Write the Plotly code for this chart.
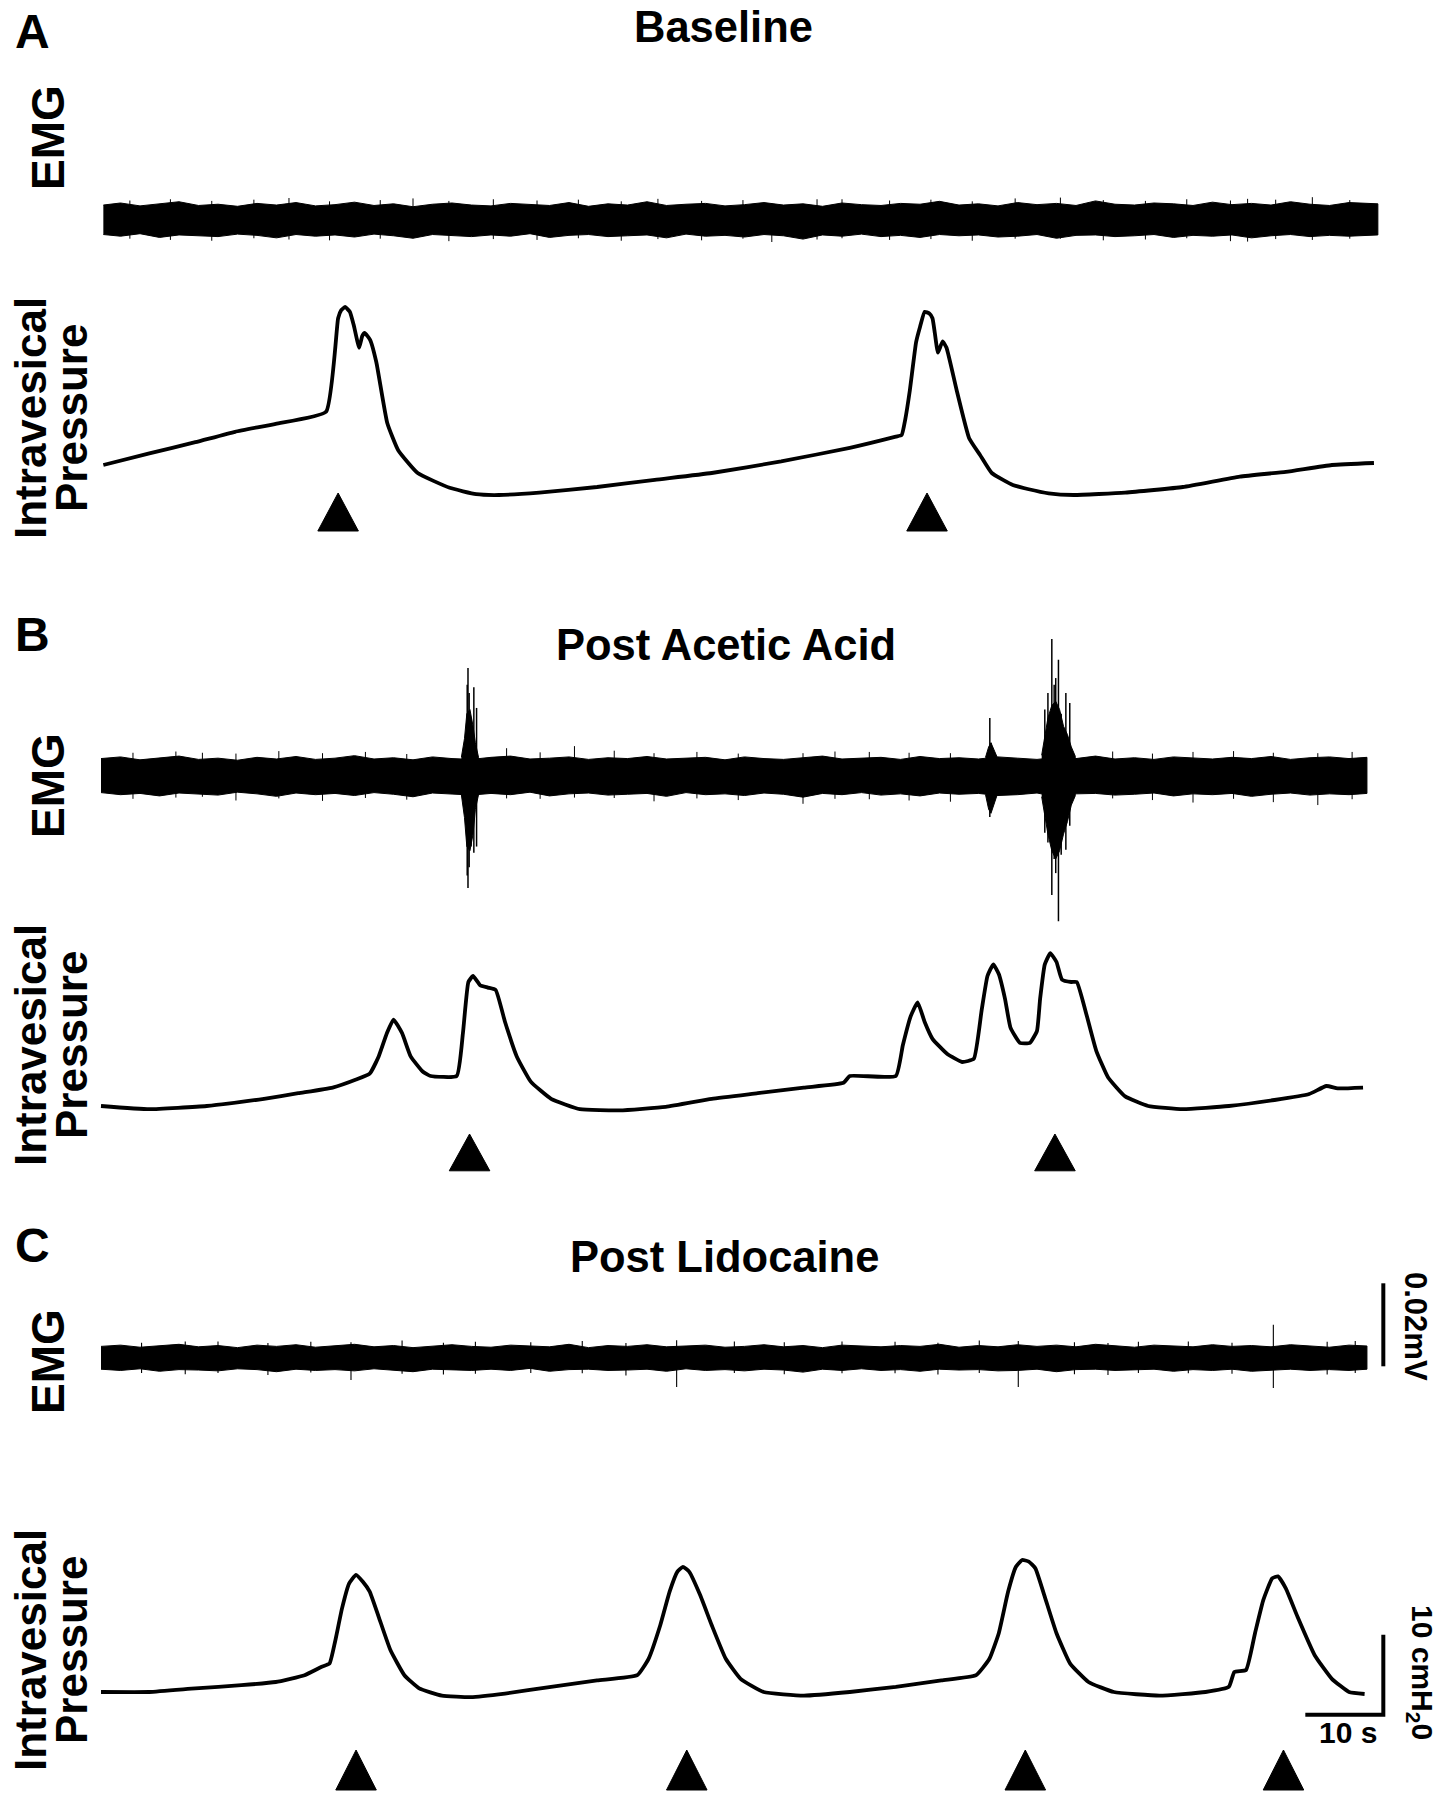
import plotly.graph_objects as go

# page is 1441x1800; the body margin is removed after plotting so the figure fills the page
PAGE_W, PAGE_H = 1441, 1800
OFF = 0
FIG_W, FIG_H = PAGE_W - 2 * OFF, PAGE_H - 2 * OFF
FONT = "Liberation Sans, Arial, sans-serif"

# ---------------- data (time in s, pressure in cmH2O, EMG in microvolts) ----------------
# Panel A - Baseline, intravesical pressure
PA_T = [0.3, 6.2, 12.1, 17.2, 22.4, 28.85, 30.4, 30.8, 31.3, 31.9, 32.4, 33.1, 33.5, 33.8, 34.5,
        35.3, 36.7, 38.1, 40.6, 44.7, 48.1, 51.0, 56.2, 63.6, 71.0, 78.3, 87.2, 96.0, 101.9, 102.65,
        103.1, 103.7, 104.5, 105.0, 105.6, 106.2, 106.6, 106.9, 107.3, 107.9, 108.4, 109.7, 111.3,
        112.7, 114.2, 116.9, 118.8, 121.5, 124.7, 131.3, 138.7, 146.0, 151.9, 157.8, 163.2]
PA_P = [8.75, 10.2, 11.6, 12.9, 13.9, 15.4, 27.1, 28.1, 28.5, 27.9, 26.25, 23.4, 24.9, 25.25, 24.4,
        21.6, 14.0, 10.6, 7.75, 5.9, 5.1, 5.0, 5.3, 6.0, 6.9, 7.75, 9.2, 10.9, 12.3, 12.5,
        14.4, 18.1, 24.1, 26.0, 27.9, 27.7, 27.1, 25.25, 22.8, 24.2, 23.4, 18.1, 12.1,
        10.0, 7.75, 6.25, 5.75, 5.2, 5.0, 5.3, 6.0, 7.3, 7.9, 8.75, 9.0]

# Panel B - Post acetic acid, intravesical pressure
PB_T = [0.0, 6.2, 13.55, 20.9, 25.3, 29.7, 32.7, 34.45, 35.6, 36.65, 37.5, 38.6, 39.7, 41.2, 42.25,
        45.6, 46.4, 47.1, 47.7, 48.6, 49.6, 50.6, 51.8, 53.3, 55.1, 57.7, 61.4, 66.5, 72.4, 78.3,
        84.2, 90.1, 95.2, 96.0, 101.9, 102.8, 103.8, 104.7, 105.6, 106.6, 108.5, 110.4, 111.9, 112.9,
        113.65, 114.4, 115.1, 115.9, 116.6, 117.8, 119.1, 120.0, 120.4, 121.0, 121.7, 122.5, 123.2,
        124.4, 125.1, 126.2, 127.6, 129.1, 131.3, 134.25, 138.7, 144.6, 150.45, 154.9, 157.1, 158.55, 161.8]
PB_P = [5.5, 5.1, 5.5, 6.4, 7.1, 7.8, 8.8, 9.55, 11.7, 14.6, 16.3, 14.6, 11.7, 9.85, 9.25,
        9.25, 14.6, 21.0, 21.75, 20.6, 20.3, 20.0, 16.0, 11.7, 8.55, 6.4, 5.1, 4.95, 5.4, 6.4,
        7.1, 7.8, 8.4, 9.25, 9.25, 13.1, 16.7, 18.45, 16.0, 13.9, 12.0, 11.0, 11.4, 17.45,
        21.75, 23.2, 22.0, 18.9, 15.3, 13.4, 13.4, 14.9, 18.9, 23.2, 24.6, 23.5, 21.3,
        21.0, 21.0, 17.45, 12.4, 9.1, 6.7, 5.5, 5.1, 5.5, 6.25, 7.0, 8.0, 7.7, 7.8]

# Panel C - Post lidocaine, intravesical pressure
PC_T = [0.0, 6.2, 12.1, 18.0, 22.4, 26.1, 28.3, 29.3, 30.0, 30.9, 31.8, 32.7, 33.6, 34.45, 35.6,
        37.1, 38.9, 40.8, 43.7, 47.4, 51.8, 57.7, 63.6, 68.75, 70.2, 71.7, 72.9, 73.9, 74.6, 75.4,
        76.8, 78.3, 80.1, 82.0, 84.95, 90.1, 96.0, 101.9, 107.75, 112.2, 113.9, 115.1, 116.3, 117.3,
        118.1, 118.95, 119.8, 121.0, 122.5, 124.25, 126.6, 129.85, 135.7, 141.6, 144.6, 145.3, 146.8,
        147.95, 149.0, 150.15, 150.9, 151.9, 153.4, 155.6, 157.8, 160.0, 162.0]
PC_P = [4.75, 4.75, 5.2, 5.6, 6.0, 6.85, 7.9, 8.3, 11.0, 15.2, 18.3, 19.4, 18.5, 17.3, 14.15,
        10.0, 6.85, 5.2, 4.3, 4.1, 4.55, 5.4, 6.2, 6.85, 8.9, 13.1, 17.3, 19.8, 20.4, 19.8,
        16.9, 13.1, 8.9, 6.4, 4.75, 4.3, 4.75, 5.4, 6.2, 6.85, 8.9, 12.1, 17.3, 20.4,
        21.25, 21.05, 20.2, 16.65, 12.1, 8.3, 6.0, 4.75, 4.3, 4.75, 5.4, 7.25, 7.5,
        12.1, 16.2, 18.95, 19.2, 17.7, 14.15, 9.35, 6.4, 4.75, 4.5]

# voiding events (arrowheads), s
EVENTS_A = [30.4, 105.9]
EVENTS_B = [47.25, 122.3]
EVENTS_C = [32.7, 75.1, 118.5, 151.6]

# EMG envelopes (upper / lower excursion, microvolts) sampled along the recording
EMG_T_A = [0.3, 2.5, 5, 7.5, 10, 12.5, 15, 17.5, 20, 22.5, 25, 27.5, 30, 32.5, 35, 37.5, 40, 42.5,
           45, 47.5, 50, 52.5, 55, 57.5, 60, 62.5, 65, 67.5, 70, 72.5, 75, 77.5, 80, 82.5, 85, 87.5,
           90, 92.5, 95, 97.5, 100, 102.5, 105, 107.5, 110, 112.5, 115, 117.5, 120, 122.5, 125,
           127.5, 130, 132.5, 135, 137.5, 140, 142.5, 145, 147.5, 150, 152.5, 155, 157.5, 160, 163.7]
EMG_T_BC = [0, 2.5, 5, 7.5, 10, 12.5, 15, 17.5, 20, 22.5, 25, 27.5, 30, 32.5, 35, 37.5, 40, 42.5,
            45, 47.5, 50, 52.5, 55, 57.5, 60, 62.5, 65, 67.5, 70, 72.5, 75, 77.5, 80, 82.5, 85, 87.5,
            90, 92.5, 95, 97.5, 100, 102.5, 105, 107.5, 110, 112.5, 115, 117.5, 120, 122.5, 125,
            127.5, 130, 132.5, 135, 137.5, 140, 142.5, 145, 147.5, 150, 152.5, 155, 157.5, 160, 162.3]

EMG_A_HI = [3.6, 4.1, 3.4, 3.9, 4.4, 3.5, 3.8, 3.3, 4.0, 3.6, 4.2, 3.4, 3.7, 4.3, 3.5, 3.9, 3.2, 3.8,
            4.1, 3.6, 3.4, 4.0, 3.7, 3.5, 4.2, 3.3, 3.9, 3.6, 4.4, 3.5, 3.8, 4.0, 3.4, 3.7, 4.2, 3.6,
            3.9, 3.3, 4.1, 3.7, 3.5, 4.0, 3.8, 4.5, 3.6, 3.9, 3.4, 4.2, 3.7, 4.0, 3.5, 4.6, 3.8, 3.6,
            4.1, 3.9, 3.5, 4.3, 3.7, 4.0, 3.6, 4.4, 3.8, 3.5, 4.2, 3.9]
EMG_A_LO = [-3.5, -3.9, -3.3, -4.2, -3.6, -3.8, -4.0, -3.4, -3.7, -4.3, -3.5, -3.9, -3.6, -4.1, -3.4,
            -3.8, -4.4, -3.5, -3.7, -4.0, -3.6, -3.9, -3.3, -4.2, -3.7, -3.5, -4.0, -3.8, -3.6, -4.3,
            -3.4, -3.9, -3.7, -4.1, -3.5, -3.8, -4.6, -3.6, -3.9, -3.4, -4.0, -3.7, -4.2, -3.5, -3.8,
            -3.6, -4.1, -3.9, -3.5, -4.4, -3.7, -3.6, -4.0, -3.8, -3.5, -4.2, -3.7, -3.9, -3.6, -4.3,
            -3.8, -3.5, -4.0, -3.7, -3.9, -3.6]

EMG_B_HI = [4.2, 4.6, 3.9, 4.4, 4.8, 4.0, 4.3, 3.8, 4.5, 4.1, 4.7, 4.0, 4.3, 4.9, 4.1, 4.4, 3.9, 4.6,
            4.2, 4.0, 4.5, 4.8, 4.1, 4.3, 4.6, 4.0, 4.4, 4.2, 4.7, 4.1, 4.3, 4.5, 3.9, 4.6, 4.2, 4.0,
            4.4, 4.8, 4.1, 4.3, 4.5, 4.0, 4.7, 4.2, 4.4, 4.1, 4.6, 4.3, 4.0, 4.5, 4.2, 4.8, 4.1, 4.4,
            4.0, 4.6, 4.3, 4.1, 4.5, 4.2, 4.7, 4.0, 4.4, 4.6, 4.2, 4.5]
EMG_B_LO = [-4.0, -4.5, -4.2, -4.8, -4.1, -4.4, -4.6, -3.9, -4.3, -4.9, -4.1, -4.5, -4.2, -4.7, -4.0,
            -4.4, -5.0, -4.1, -4.3, -4.6, -4.2, -4.5, -3.9, -4.8, -4.3, -4.1, -4.6, -4.4, -4.2, -4.9,
            -4.0, -4.5, -4.3, -4.7, -4.1, -4.4, -5.1, -4.2, -4.5, -4.0, -4.6, -4.3, -4.8, -4.1, -4.4,
            -4.2, -4.7, -4.5, -4.1, -5.0, -4.3, -4.2, -4.6, -4.4, -4.1, -4.8, -4.3, -4.5, -4.2, -4.9,
            -4.4, -4.1, -4.6, -4.3, -4.5, -4.2]

EMG_C_HI = [2.8, 3.1, 2.6, 2.9, 3.3, 2.7, 3.0, 2.5, 3.1, 2.8, 3.2, 2.6, 2.9, 3.3, 2.7, 3.0, 2.5, 2.9,
            3.2, 2.8, 2.6, 3.1, 2.9, 2.7, 3.3, 2.5, 3.0, 2.8, 3.2, 2.7, 2.9, 3.1, 2.6, 2.8, 3.2, 2.7,
            3.0, 2.5, 3.1, 2.9, 2.7, 3.0, 2.8, 3.3, 2.6, 3.0, 2.7, 3.2, 2.8, 3.1, 2.7, 3.3, 2.9, 2.6,
            3.1, 2.9, 2.7, 3.2, 2.8, 3.0, 2.7, 3.2, 2.9, 2.6, 3.1, 2.9]
EMG_C_LO = [-2.7, -3.0, -2.6, -3.2, -2.8, -2.9, -3.1, -2.6, -2.8, -3.3, -2.7, -3.0, -2.8, -3.1, -2.6,
            -2.9, -3.3, -2.7, -2.8, -3.0, -2.7, -3.0, -2.5, -3.2, -2.8, -2.7, -3.0, -2.9, -2.7, -3.2,
            -2.6, -3.0, -2.8, -3.1, -2.7, -2.9, -3.4, -2.7, -3.0, -2.6, -3.0, -2.8, -3.2, -2.7, -2.9,
            -2.8, -3.1, -3.0, -2.7, -3.3, -2.8, -2.7, -3.0, -2.9, -2.7, -3.2, -2.8, -3.0, -2.7, -3.2,
            -2.9, -2.7, -3.0, -2.8, -3.0, -2.7]

# EMG bursts in panel B: dense core envelopes
BURST_CORES_B = [
    ([46.2, 46.6, 46.9, 47.3, 47.7, 48.0, 48.4], [4.5, 9, 15, 16, 12, 8, 4.5], [-4.5, -10, -17, -18, -14, -8, -4.5]),
    ([113.4, 113.8, 114.1, 114.5, 114.9], [4.5, 7, 8, 6, 4.5], [-4.5, -8, -9, -7, -4.5]),
    ([120.6, 121.0, 121.4, 121.9, 122.4, 122.9, 123.4, 123.9, 124.4, 124.9],
     [5, 10, 14, 17, 18, 16, 12, 10, 7, 4.8], [-5, -9, -14, -18, -20, -18, -14, -11, -7, -4.8]),
]
# individual spikes (time, upper tip, lower tip)
NOISE_A_T = [3.7, 8.9, 14.2, 19.6, 24.1, 29.3, 35.8, 40.0, 44.6, 50.3, 55.9, 61.2, 66.7, 71.4, 77.0, 82.3,
             86.0, 91.8, 95.0, 101.1, 106.4, 111.7, 117.2, 123.0, 128.5, 133.9, 139.2, 144.8, 147.0,
             150.6, 155.3, 160.1]
NOISE_A_HI = [4.7, 5.0, 4.6, 4.9, 5.3, 4.5, 4.8, 5.2, 4.6, 5.0, 4.7, 4.9, 4.5, 5.1, 4.6, 4.8, 4.0, 5.0,
              5.0, 4.7, 4.9, 4.5, 5.2, 5.4, 4.8, 4.6, 5.0, 4.7, 5.1, 4.9, 5.5, 4.8]
NOISE_A_LO = [-4.5, -4.8, -5.0, -4.4, -4.7, -4.9, -4.5, -4.2, -5.1, -4.6, -4.8, -4.4, -5.0, -4.6, -4.9,
              -4.5, -5.3, -4.7, -4.4, -4.8, -4.6, -5.0, -4.5, -4.5, -4.9, -4.7, -4.4, -5.1, -5.2, -4.6,
              -4.8, -4.5]
NOISE_B_T = [4.1, 9.6, 13.0, 17.3, 22.8, 28.4, 33.9, 39.2, 52.0, 56.3, 60.7, 65.8, 70.9, 76.4, 81.7,
             90.0, 94.1, 98.5, 103.6, 108.9, 129.7, 134.8, 140.0, 145.2, 150.3, 156.0, 160.4]
NOISE_B_HI = [5.6, 5.9, 5.6, 5.4, 6.0, 5.5, 5.8, 5.3, 6.7, 5.7, 7.2, 6.1, 5.5, 5.8, 5.4,
              5.5, 5.9, 5.8, 5.6, 5.5, 5.9, 5.4, 5.8, 6.0, 5.6, 5.5, 5.8]
NOISE_B_LO = [-5.5, -5.2, -5.0, -5.9, -5.4, -6.0, -5.3, -5.7, -5.4, -5.5, -5.2, -5.3, -6.1, -5.4, -5.8,
              -6.7, -5.5, -5.6, -5.9, -6.2, -5.4, -5.8, -6.4, -5.5, -6.3, -7.0, -5.6]
BURST_SPIKES_B_T = [46.95, 47.05, 47.2, 47.45, 47.8, 48.15, 113.95, 114.1,
                    121.0, 121.4, 121.9, 122.2, 122.4, 122.75, 123.1, 123.7, 124.2]
BURST_SPIKES_B_HI = [22, 26, 20, 14, 21.4, 16.4, 14, 8, 16, 20, 33, 22, 23.6, 28, 15, 20, 17.6]
BURST_SPIKES_B_LO = [-24, -27, -22, -17, -18.5, -17, -9.9, -7,
                     -13.7, -16, -28.7, -20, -23.4, -35, -19, -17.8, -12]
NOISE_C_T = [5.2, 10.8, 15.0, 21.4, 26.9, 32.05, 38.6, 43.9, 48.0, 55.1, 61.7, 67.3, 73.8, 81.2, 87.6,
             95.0, 101.8, 107.3, 112.6, 117.6, 124.8, 129.1, 133.0, 139.4, 145.0, 150.3, 157.2, 160.8]
NOISE_C_HI = [3.7, 4.0, 4.0, 3.6, 3.9, 3.8, 4.2, 3.7, 3.9, 3.8, 4.1, 3.6, 4.3, 4.0, 3.8,
              4.0, 3.9, 3.7, 4.2, 4.1, 3.8, 3.6, 3.9, 4.0, 3.7, 8.0, 3.9, 4.1]
NOISE_C_LO = [-3.6, -3.9, -3.6, -4.1, -3.5, -5.3, -3.8, -4.0, -3.8, -3.6, -3.7, -4.2, -7.0, -3.6, -3.9,
              -3.7, -3.7, -4.0, -3.6, -7.0, -3.9, -4.1, -3.6, -3.7, -3.8, -7.2, -4.0, -3.6]

# scale bars (panel C): anchor time / value and lengths
SCALE_T = 164.4          # s, position of the vertical bars
SCALE_P0 = 1.9           # cmH2O, bottom of pressure bar
SCALE_P_LEN = 10         # cmH2O
SCALE_T_LEN = 10         # s
SCALE_EMG0 = -2.0        # microvolts, bottom of EMG bar
SCALE_EMG_LEN = 20       # microvolts (0.02 mV)

# ---------------- geometry (page pixels) ----------------
PX_PER_S = 7.8
T0_PX = 101
EMG_PPU = 4.15
P_PPU = 8.0


def yr(zero_px, ppu):
    return [-(OFF + FIG_H - zero_px) / ppu, (zero_px - OFF) / ppu]


fig = go.Figure()
BLACK = "#000000"


def add_envelope(t, hi, lo, yax, lw=1.0):
    fig.add_trace(go.Scatter(x=list(t) + list(t)[::-1], y=list(hi) + list(lo)[::-1],
                             mode="lines", fill="toself", fillcolor=BLACK,
                             line=dict(color=BLACK, width=lw), xaxis="x", yaxis=yax,
                             hoverinfo="skip"))


def add_spikes(t, hi, lo, yax, lw=1.2):
    xs, ys = [], []
    for a, b, c in zip(t, hi, lo):
        xs += [a, a, None]
        ys += [b, c, None]
    fig.add_trace(go.Scatter(x=xs, y=ys, mode="lines", line=dict(color=BLACK, width=lw),
                             xaxis="x", yaxis=yax, hoverinfo="skip"))


def add_pressure(t, p, yax):
    fig.add_trace(go.Scatter(x=t, y=p, mode="lines",
                             line=dict(color=BLACK, width=3.8, shape="spline", smoothing=0.4),
                             xaxis="x", yaxis=yax, hoverinfo="skip"))


TRI_HALF = 2.6  # s


def add_triangles(events, apex, base, yax):
    xs, ys = [], []
    for e in events:
        xs += [e - TRI_HALF, e + TRI_HALF, e, e - TRI_HALF, None]
        ys += [base, base, apex, base, None]
    fig.add_trace(go.Scatter(x=xs, y=ys, mode="lines", fill="toself", fillcolor=BLACK,
                             line=dict(color=BLACK, width=1), xaxis="x", yaxis=yax,
                             hoverinfo="skip"))


# Panel A
add_envelope(EMG_T_A, EMG_A_HI, EMG_A_LO, "y")
add_spikes(NOISE_A_T, NOISE_A_HI, NOISE_A_LO, "y", 1.0)
add_pressure(PA_T, PA_P, "y2")
add_triangles(EVENTS_A, 5.25, 0.5, "y2")

# Panel B
add_envelope(EMG_T_BC, EMG_B_HI, EMG_B_LO, "y3")
for bt, bh, bl in BURST_CORES_B:
    add_envelope(bt, bh, bl, "y3")
add_spikes(NOISE_B_T, NOISE_B_HI, NOISE_B_LO, "y3", 1.0)
add_spikes(BURST_SPIKES_B_T, BURST_SPIKES_B_HI, BURST_SPIKES_B_LO, "y3", 1.5)
add_pressure(PB_T, PB_P, "y4")
add_triangles(EVENTS_B, 2.0, -2.6, "y4")

# Panel C
add_envelope(EMG_T_BC, EMG_C_HI, EMG_C_LO, "y5")
add_spikes(NOISE_C_T, NOISE_C_HI, NOISE_C_LO, "y5", 1.1)
add_pressure(PC_T, PC_P, "y6")
add_triangles(EVENTS_C, -2.5, -7.5, "y6")

# scale bars
fig.add_trace(go.Scatter(x=[SCALE_T, SCALE_T], y=[SCALE_EMG0, SCALE_EMG0 + SCALE_EMG_LEN],
                         mode="lines", line=dict(color=BLACK, width=4), xaxis="x", yaxis="y5"))
fig.add_trace(go.Scatter(x=[SCALE_T - SCALE_T_LEN, SCALE_T, SCALE_T],
                         y=[SCALE_P0, SCALE_P0, SCALE_P0 + SCALE_P_LEN],
                         mode="lines", line=dict(color=BLACK, width=4), xaxis="x", yaxis="y6"))

axis_off = dict(visible=False, showgrid=False, zeroline=False, fixedrange=True)
fig.update_layout(
    width=FIG_W, height=FIG_H, margin=dict(l=0, r=0, t=0, b=0),
    paper_bgcolor="white", plot_bgcolor="white", showlegend=False,
    xaxis=dict(domain=[0, 1], range=[(OFF - T0_PX) / PX_PER_S, (OFF + FIG_W - T0_PX) / PX_PER_S],
               **axis_off),
    yaxis=dict(domain=[0, 1], range=yr(220, EMG_PPU), **axis_off),
    yaxis2=dict(domain=[0, 1], overlaying="y", range=yr(535, P_PPU), **axis_off),
    yaxis3=dict(domain=[0, 1], overlaying="y", range=yr(776, EMG_PPU), **axis_off),
    yaxis4=dict(domain=[0, 1], overlaying="y", range=yr(1150, P_PPU), **axis_off),
    yaxis5=dict(domain=[0, 1], overlaying="y", range=yr(1358, EMG_PPU), **axis_off),
    yaxis6=dict(domain=[0, 1], overlaying="y", range=yr(1730, P_PPU), **axis_off),
)


def label(text, xpx, ypx, size, angle=0, bold=True):
    fig.add_annotation(x=(xpx - OFF) / FIG_W, y=1 - (ypx - OFF) / FIG_H, xref="paper", yref="paper",
                       text=f"<b>{text}</b>" if bold else text, showarrow=False,
                       textangle=angle, xanchor="center", yanchor="middle",
                       font=dict(family=FONT, size=size, color=BLACK))


# panel letters and titles
for letter, ypx in [("A", 31), ("B", 634), ("C", 1245)]:
    label(letter, 32, ypx, 48)
for title, xpx, ypx in [("Baseline", 723, 27), ("Post Acetic Acid", 726, 645),
                        ("Post Lidocaine", 724, 1257)]:
    label(title, xpx, ypx, 43.5)

# channel labels
for ypx in [138, 786, 1362]:
    label("EMG", 48, ypx, 46, -90)
for ypx in [418, 1045, 1650]:
    label("Intravesical", 30, ypx, 44, -90)
    label("Pressure", 71, ypx, 44, -90)

# scale bar labels
label("0.02mV", 1416, 1326, 31, 90)
label("10 cmH<sub>2</sub>0", 1421, 1672, 30, 90)
label("10 s", 1348, 1732, 30, 0)

fig.write_html("out.html", config={"displayModeBar": False, "staticPlot": True},
               post_script="document.body.style.margin='0px';")
